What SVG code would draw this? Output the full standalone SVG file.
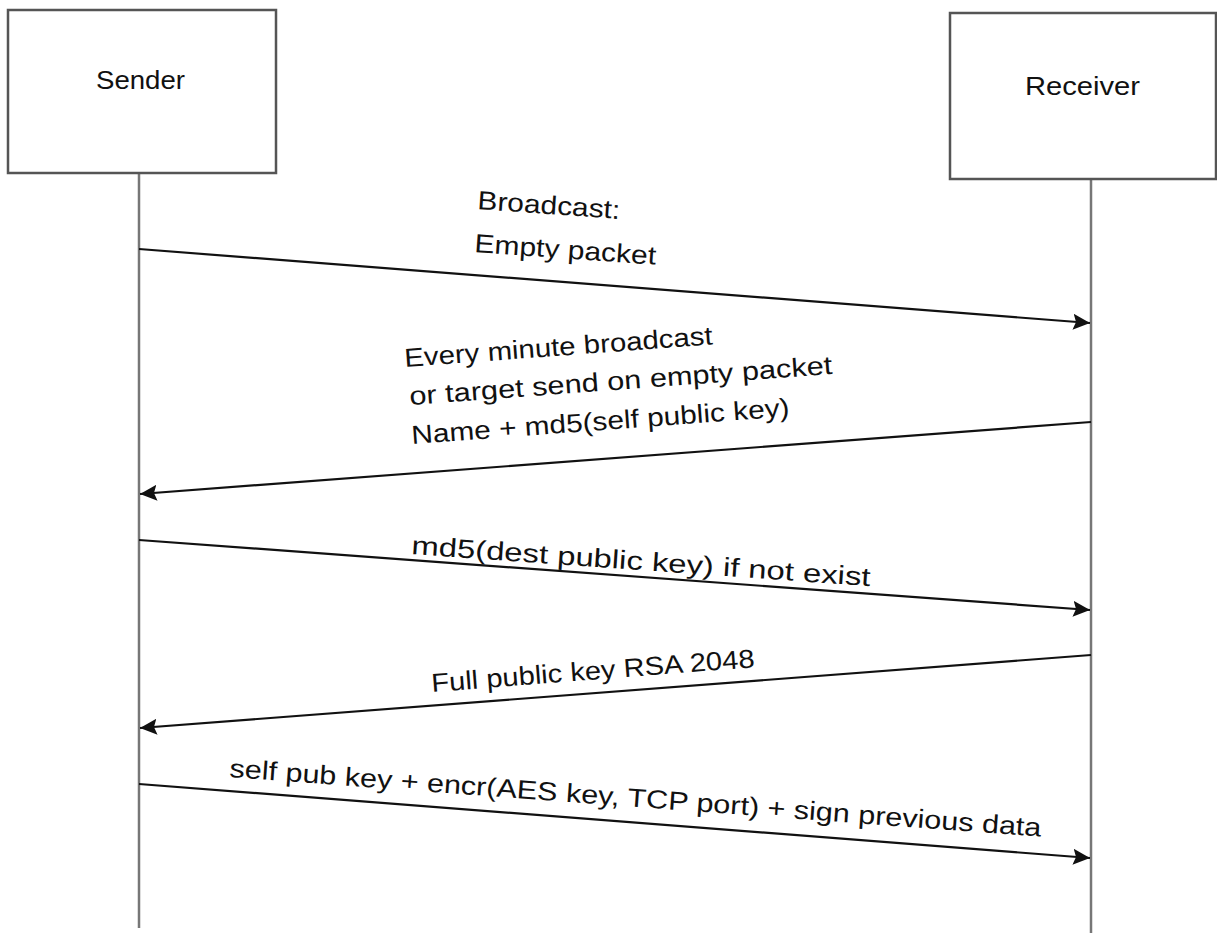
<svg xmlns="http://www.w3.org/2000/svg" width="1217" height="933" viewBox="0 0 1217 933">
<style>
.box{fill:#fff;stroke:#555;stroke-width:2.5}
.life{stroke:#777;stroke-width:2.5;fill:none}
.msg{stroke:#111;stroke-width:2.2;fill:none;marker-end:url(#ah)}
.t{font-family:"Liberation Sans","Open Sans",sans-serif;font-size:26px;fill:#111}
</style>
<defs>
<marker id="ah" viewBox="0 0 17 16" refX="17" refY="8" markerWidth="17" markerHeight="16" markerUnits="userSpaceOnUse" orient="auto">
<path d="M0,0 L17,8 L0,16 L3,8 Z" fill="#111"/>
</marker>
</defs>
<rect width="1217" height="933" fill="#fff"/>
<g id="sender">
<line class="life" x1="139" y1="173" x2="139" y2="928"/>
<rect class="box" x="8" y="10" width="268" height="163"/>
<text class="t" x="96" y="89" textLength="89" lengthAdjust="spacingAndGlyphs">Sender</text>
</g>
<g id="receiver">
<line class="life" x1="1091" y1="179" x2="1091" y2="933"/>
<rect class="box" x="950" y="13" width="266" height="166"/>
<text class="t" x="1025" y="95" textLength="115" lengthAdjust="spacingAndGlyphs">Receiver</text>
</g>
<g id="connectors">
<line class="msg" x1="139" y1="249" x2="1090" y2="323"/>
<line class="msg" x1="1091" y1="422" x2="140" y2="494"/>
<line class="msg" x1="139" y1="540" x2="1090" y2="610"/>
<line class="msg" x1="1091" y1="655" x2="140" y2="728"/>
<line class="msg" x1="139" y1="784" x2="1090" y2="858"/>
</g>
<g id="labels">
<text class="t" transform="translate(477,209) rotate(4)" textLength="143" lengthAdjust="spacingAndGlyphs">Broadcast:</text>
<text class="t" transform="translate(474,252) rotate(4)" textLength="182" lengthAdjust="spacingAndGlyphs">Empty packet</text>
<text class="t" transform="translate(405,367) rotate(-4.2)" textLength="309" lengthAdjust="spacingAndGlyphs">Every minute broadcast</text>
<text class="t" transform="translate(410,405) rotate(-4.2)" textLength="424" lengthAdjust="spacingAndGlyphs">or target send on empty packet</text>
<text class="t" transform="translate(412,444) rotate(-4.2)" textLength="379" lengthAdjust="spacingAndGlyphs">Name + md5(self public key)</text>
<text class="t" transform="translate(411,554) rotate(4)" textLength="460" lengthAdjust="spacingAndGlyphs">md5(dest public key) if not exist</text>
<text class="t" transform="translate(432,692) rotate(-4.4)" textLength="324" lengthAdjust="spacingAndGlyphs">Full public key RSA 2048</text>
<text class="t" transform="translate(229,777) rotate(4.2)" textLength="814" lengthAdjust="spacingAndGlyphs">self pub key + encr(AES key, TCP port) + sign previous data</text>
</g>
</svg>
